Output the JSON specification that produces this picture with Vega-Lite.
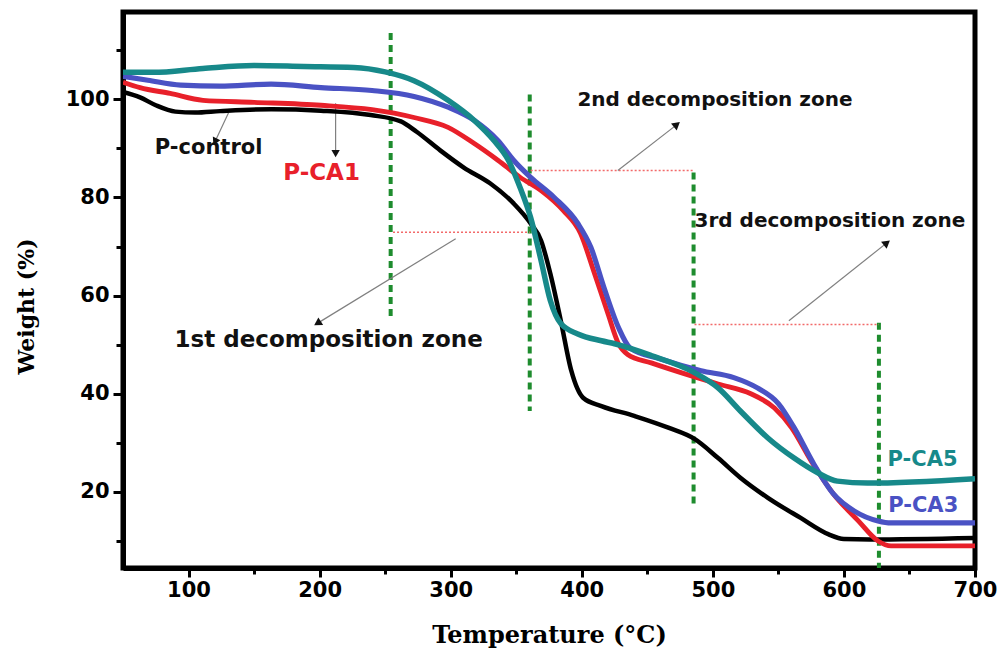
{
  "$schema": "https://vega.github.io/schema/vega-lite/v6.json",
  "width": 852,
  "height": 556,
  "autosize": "none",
  "padding": {"left": 123, "top": 12, "right": 24, "bottom": 80},
  "background": "white",
  "config": {
    "view": {"stroke": "black", "strokeWidth": 5},
    "axis": {"grid": false}
  },
  "datasets": {
    "tga": [
      {"s": "P-control", "t": 50, "w": 101.5}, {"s": "P-control", "t": 63, "w": 100.4}, {"s": "P-control", "t": 75, "w": 98.8}, {"s": "P-control", "t": 90, "w": 97.5}, {"s": "P-control", "t": 105, "w": 97.3}, {"s": "P-control", "t": 124, "w": 97.6}, {"s": "P-control", "t": 163, "w": 98.0}, {"s": "P-control", "t": 201, "w": 97.7}, {"s": "P-control", "t": 239, "w": 96.8}, {"s": "P-control", "t": 262, "w": 95.5}, {"s": "P-control", "t": 274, "w": 93.4}, {"s": "P-control", "t": 292, "w": 89.6}, {"s": "P-control", "t": 310, "w": 86.1}, {"s": "P-control", "t": 330, "w": 82.9}, {"s": "P-control", "t": 348, "w": 78.8}, {"s": "P-control", "t": 361, "w": 74.7}, {"s": "P-control", "t": 369, "w": 71.2}, {"s": "P-control", "t": 376, "w": 64.5}, {"s": "P-control", "t": 384, "w": 54.9}, {"s": "P-control", "t": 392, "w": 44.7}, {"s": "P-control", "t": 401, "w": 39.2}, {"s": "P-control", "t": 415, "w": 37.5}, {"s": "P-control", "t": 440, "w": 35.5}, {"s": "P-control", "t": 466, "w": 33.1}, {"s": "P-control", "t": 486, "w": 30.8}, {"s": "P-control", "t": 504, "w": 26.9}, {"s": "P-control", "t": 521, "w": 22.9}, {"s": "P-control", "t": 542, "w": 18.8}, {"s": "P-control", "t": 567, "w": 14.7}, {"s": "P-control", "t": 588, "w": 11.4}, {"s": "P-control", "t": 600, "w": 10.4}, {"s": "P-control", "t": 620, "w": 10.3}, {"s": "P-control", "t": 700, "w": 10.6},
      {"s": "P-CA1", "t": 50, "w": 103.5}, {"s": "P-CA1", "t": 63, "w": 102.4}, {"s": "P-CA1", "t": 86, "w": 101.2}, {"s": "P-CA1", "t": 111, "w": 99.8}, {"s": "P-CA1", "t": 150, "w": 99.4}, {"s": "P-CA1", "t": 201, "w": 98.8}, {"s": "P-CA1", "t": 240, "w": 97.9}, {"s": "P-CA1", "t": 272, "w": 96.3}, {"s": "P-CA1", "t": 298, "w": 94.3}, {"s": "P-CA1", "t": 318, "w": 91.0}, {"s": "P-CA1", "t": 336, "w": 87.6}, {"s": "P-CA1", "t": 353, "w": 84.1}, {"s": "P-CA1", "t": 369, "w": 81.4}, {"s": "P-CA1", "t": 386, "w": 77.3}, {"s": "P-CA1", "t": 399, "w": 72.7}, {"s": "P-CA1", "t": 409, "w": 65.1}, {"s": "P-CA1", "t": 420, "w": 56.3}, {"s": "P-CA1", "t": 428, "w": 50.2}, {"s": "P-CA1", "t": 435, "w": 48.0}, {"s": "P-CA1", "t": 453, "w": 46.3}, {"s": "P-CA1", "t": 483, "w": 43.7}, {"s": "P-CA1", "t": 504, "w": 42.0}, {"s": "P-CA1", "t": 529, "w": 40.0}, {"s": "P-CA1", "t": 547, "w": 37.1}, {"s": "P-CA1", "t": 560, "w": 33.1}, {"s": "P-CA1", "t": 575, "w": 26.3}, {"s": "P-CA1", "t": 592, "w": 19.6}, {"s": "P-CA1", "t": 611, "w": 14.1}, {"s": "P-CA1", "t": 626, "w": 10.0}, {"s": "P-CA1", "t": 636, "w": 9.0}, {"s": "P-CA1", "t": 700, "w": 9.0},
      {"s": "P-CA3", "t": 50, "w": 104.7}, {"s": "P-CA3", "t": 69, "w": 103.9}, {"s": "P-CA3", "t": 94, "w": 102.9}, {"s": "P-CA3", "t": 124, "w": 102.7}, {"s": "P-CA3", "t": 163, "w": 103.1}, {"s": "P-CA3", "t": 201, "w": 102.4}, {"s": "P-CA3", "t": 240, "w": 101.8}, {"s": "P-CA3", "t": 272, "w": 100.6}, {"s": "P-CA3", "t": 298, "w": 98.4}, {"s": "P-CA3", "t": 318, "w": 95.7}, {"s": "P-CA3", "t": 336, "w": 91.6}, {"s": "P-CA3", "t": 348, "w": 87.6}, {"s": "P-CA3", "t": 361, "w": 84.1}, {"s": "P-CA3", "t": 379, "w": 80.0}, {"s": "P-CA3", "t": 397, "w": 74.7}, {"s": "P-CA3", "t": 407, "w": 69.8}, {"s": "P-CA3", "t": 417, "w": 61.6}, {"s": "P-CA3", "t": 428, "w": 53.5}, {"s": "P-CA3", "t": 437, "w": 49.3}, {"s": "P-CA3", "t": 460, "w": 47.1}, {"s": "P-CA3", "t": 491, "w": 44.7}, {"s": "P-CA3", "t": 516, "w": 43.3}, {"s": "P-CA3", "t": 534, "w": 41.2}, {"s": "P-CA3", "t": 550, "w": 38.0}, {"s": "P-CA3", "t": 562, "w": 33.1}, {"s": "P-CA3", "t": 577, "w": 25.7}, {"s": "P-CA3", "t": 592, "w": 19.6}, {"s": "P-CA3", "t": 608, "w": 16.1}, {"s": "P-CA3", "t": 626, "w": 14.1}, {"s": "P-CA3", "t": 636, "w": 13.7}, {"s": "P-CA3", "t": 700, "w": 13.7},
      {"s": "P-CA5", "t": 50, "w": 105.5}, {"s": "P-CA5", "t": 73, "w": 105.5}, {"s": "P-CA5", "t": 111, "w": 106.3}, {"s": "P-CA5", "t": 150, "w": 106.9}, {"s": "P-CA5", "t": 188, "w": 106.7}, {"s": "P-CA5", "t": 226, "w": 106.5}, {"s": "P-CA5", "t": 250, "w": 105.6}, {"s": "P-CA5", "t": 272, "w": 103.8}, {"s": "P-CA5", "t": 298, "w": 99.8}, {"s": "P-CA5", "t": 318, "w": 95.7}, {"s": "P-CA5", "t": 333, "w": 91.6}, {"s": "P-CA5", "t": 344, "w": 87.6}, {"s": "P-CA5", "t": 353, "w": 82.0}, {"s": "P-CA5", "t": 361, "w": 75.9}, {"s": "P-CA5", "t": 369, "w": 67.1}, {"s": "P-CA5", "t": 376, "w": 59.0}, {"s": "P-CA5", "t": 384, "w": 54.3}, {"s": "P-CA5", "t": 397, "w": 52.2}, {"s": "P-CA5", "t": 415, "w": 50.8}, {"s": "P-CA5", "t": 425, "w": 50.2}, {"s": "P-CA5", "t": 453, "w": 47.8}, {"s": "P-CA5", "t": 486, "w": 44.3}, {"s": "P-CA5", "t": 504, "w": 41.2}, {"s": "P-CA5", "t": 521, "w": 36.5}, {"s": "P-CA5", "t": 542, "w": 31.0}, {"s": "P-CA5", "t": 562, "w": 26.9}, {"s": "P-CA5", "t": 580, "w": 23.9}, {"s": "P-CA5", "t": 595, "w": 22.2}, {"s": "P-CA5", "t": 618, "w": 21.8}, {"s": "P-CA5", "t": 700, "w": 22.7}
    ],
    "zones": [
      {"x": 254.2, "y1": 113.5, "y2": 55.5},
      {"x": 360.3, "y1": 101.0, "y2": 36.5},
      {"x": 485.3, "y1": 85.1, "y2": 17.1},
      {"x": 626.7, "y1": 54.5, "y2": 4.5}
    ],
    "spans": [
      {"x1": 256, "x2": 360.3, "y": 72.9},
      {"x1": 361, "x2": 485.3, "y": 85.5},
      {"x1": 486, "x2": 626.7, "y": 54.1}
    ],
    "arrows": [
      {"id": "z1", "x": 303.8, "y": 71.6, "x2": 199.2, "y2": 54.5},
      {"id": "z2", "x": 427.5, "y": 85.5, "x2": 471.8, "y2": 94.7},
      {"id": "z3", "x": 558, "y": 54.9, "x2": 632, "y2": 70.6},
      {"id": "pc", "x": 130.6, "y": 97.3, "x2": 120.6, "y2": 91.6},
      {"id": "ca1", "x": 212.2, "y": 99.2, "x2": 212.2, "y2": 89.2}
    ],
    "labels": [
      {"id": "pc", "text": "P-control", "x": 115.3, "y": 90.0},
      {"id": "ca1", "text": "P-CA1", "x": 201.5, "y": 84.9},
      {"id": "ca5", "text": "P-CA5", "x": 660, "y": 26.5},
      {"id": "ca3", "text": "P-CA3", "x": 660.5, "y": 17.1},
      {"id": "z1", "text": "1st decomposition zone", "x": 206.9, "y": 51.0},
      {"id": "z2", "text": "2nd decomposition zone", "x": 501.6, "y": 99.8},
      {"id": "z3", "text": "3rd decomposition zone", "x": 589.3, "y": 75.3}
    ]
  },
  "encoding": {
    "x": {
      "type": "quantitative",
      "scale": {"domain": [50, 700], "nice": false, "zero": false},
      "axis": {
        "title": "Temperature (°C)",
        "values": [100, 150, 200, 250, 300, 350, 400, 450, 500, 550, 600, 650, 700],
        "labelExpr": "datum.value % 100 === 0 ? datum.label : ''",
        "labelFont": "DejaVu Sans", "labelFontWeight": "bold", "labelFontSize": 21, "labelColor": "black",
        "labelPadding": 2, "labelFlush": false,
        "tickSize": {"condition": {"test": "datum.value % 100 === 0", "value": 9}, "value": 6},
        "tickWidth": 3, "tickColor": "black",
        "domainColor": "black", "domainWidth": 5,
        "titleFont": "DejaVu Serif", "titleFontWeight": "bold", "titleFontSize": 24, "titleColor": "black",
        "titleBaseline": "alphabetic", "titleY": 74
      }
    },
    "y": {
      "type": "quantitative",
      "scale": {"domain": [4.5, 117.8], "nice": false, "zero": false},
      "axis": {
        "title": "Weight (%)",
        "values": [10, 20, 30, 40, 50, 60, 70, 80, 90, 100, 110],
        "labelExpr": "datum.value % 20 === 0 ? datum.label : ''",
        "labelFont": "DejaVu Sans", "labelFontWeight": "bold", "labelFontSize": 21, "labelColor": "black",
        "labelPadding": 4, "labelFlush": false,
        "tickSize": {"condition": {"test": "datum.value % 20 === 0", "value": 10}, "value": 7},
        "tickWidth": 3, "tickColor": "black",
        "domainColor": "black", "domainWidth": 5,
        "titleFont": "DejaVu Serif", "titleFontWeight": "bold", "titleFontSize": 22, "titleColor": "black",
        "titleBaseline": "alphabetic", "titleX": -90, "titleY": 294, "titleAngle": -90
      }
    }
  },
  "layer": [
    {
      "data": {"name": "zones"},
      "mark": {"type": "rule", "color": "#1e8c2e", "strokeWidth": 4, "strokeDash": [7, 5]},
      "encoding": {"x": {"field": "x"}, "y": {"field": "y1"}, "y2": {"field": "y2"}}
    },
    {
      "data": {"name": "spans"},
      "mark": {"type": "rule", "color": "#f26a6a", "strokeWidth": 1.5, "strokeDash": [2, 2]},
      "encoding": {"x": {"field": "x1"}, "x2": {"field": "x2"}, "y": {"field": "y"}}
    },
    {
      "data": {"name": "arrows"},
      "mark": {"type": "rule", "color": "#808080", "strokeWidth": 1.2},
      "encoding": {"x": {"field": "x"}, "y": {"field": "y"}, "x2": {"field": "x2"}, "y2": {"field": "y2"}}
    },
    {
      "data": {"name": "arrows"},
      "transform": [{"filter": "datum.id === 'z1'"}],
      "mark": {"type": "point", "shape": "triangle", "filled": true, "color": "#111111", "size": 80, "angle": 238, "opacity": 1},
      "encoding": {"x": {"field": "x2"}, "y": {"field": "y2"}}
    },
    {
      "data": {"name": "arrows"},
      "transform": [{"filter": "datum.id === 'z2' || datum.id === 'z3'"}],
      "mark": {"type": "point", "shape": "triangle", "filled": true, "color": "#111111", "size": 80, "angle": 51, "opacity": 1},
      "encoding": {"x": {"field": "x2"}, "y": {"field": "y2"}}
    },
    {
      "data": {"name": "arrows"},
      "transform": [{"filter": "datum.id === 'pc'"}],
      "mark": {"type": "point", "shape": "triangle", "filled": true, "color": "#111111", "size": 70, "angle": 206, "opacity": 1},
      "encoding": {"x": {"field": "x2"}, "y": {"field": "y2"}}
    },
    {
      "data": {"name": "arrows"},
      "transform": [{"filter": "datum.id === 'ca1'"}],
      "mark": {"type": "point", "shape": "triangle", "filled": true, "color": "#111111", "size": 70, "angle": 180, "opacity": 1},
      "encoding": {"x": {"field": "x2"}, "y": {"field": "y2"}}
    },
    {
      "data": {"name": "tga"},
      "mark": {"type": "line", "interpolate": "monotone", "clip": true},
      "encoding": {
        "x": {"field": "t"},
        "y": {"field": "w"},
        "color": {"field": "s", "type": "nominal", "scale": {"domain": ["P-control", "P-CA1", "P-CA3", "P-CA5"], "range": ["#000000", "#e8202a", "#4a52c4", "#17898a"]}, "legend": null},
        "strokeWidth": {"field": "s", "type": "nominal", "scale": {"domain": ["P-control", "P-CA1", "P-CA3", "P-CA5"], "range": [4.5, 5.5, 7, 4.5]}, "legend": null}
      }
    },
    {
      "data": {"name": "labels"},
      "transform": [{"filter": "datum.id === 'pc'"}],
      "mark": {"type": "text", "font": "DejaVu Sans", "fontWeight": "bold", "fontSize": 21, "color": "#111111", "align": "center", "baseline": "middle"},
      "encoding": {"x": {"field": "x"}, "y": {"field": "y"}, "text": {"field": "text"}}
    },
    {
      "data": {"name": "labels"},
      "transform": [{"filter": "datum.id === 'ca1'"}],
      "mark": {"type": "text", "font": "DejaVu Sans", "fontWeight": "bold", "fontSize": 23, "color": "#e8202a", "align": "center", "baseline": "middle"},
      "encoding": {"x": {"field": "x"}, "y": {"field": "y"}, "text": {"field": "text"}}
    },
    {
      "data": {"name": "labels"},
      "transform": [{"filter": "datum.id === 'ca5'"}],
      "mark": {"type": "text", "font": "DejaVu Sans", "fontWeight": "bold", "fontSize": 21, "color": "#17898a", "align": "center", "baseline": "middle"},
      "encoding": {"x": {"field": "x"}, "y": {"field": "y"}, "text": {"field": "text"}}
    },
    {
      "data": {"name": "labels"},
      "transform": [{"filter": "datum.id === 'ca3'"}],
      "mark": {"type": "text", "font": "DejaVu Sans", "fontWeight": "bold", "fontSize": 21, "color": "#4a52c4", "align": "center", "baseline": "middle"},
      "encoding": {"x": {"field": "x"}, "y": {"field": "y"}, "text": {"field": "text"}}
    },
    {
      "data": {"name": "labels"},
      "transform": [{"filter": "datum.id === 'z1'"}],
      "mark": {"type": "text", "font": "DejaVu Sans", "fontWeight": "bold", "fontSize": 23, "color": "#111111", "align": "center", "baseline": "middle"},
      "encoding": {"x": {"field": "x"}, "y": {"field": "y"}, "text": {"field": "text"}}
    },
    {
      "data": {"name": "labels"},
      "transform": [{"filter": "datum.id === 'z2' || datum.id === 'z3'"}],
      "mark": {"type": "text", "font": "DejaVu Sans", "fontWeight": "bold", "fontSize": 20, "color": "#111111", "align": "center", "baseline": "middle"},
      "encoding": {"x": {"field": "x"}, "y": {"field": "y"}, "text": {"field": "text"}}
    }
  ]
}
